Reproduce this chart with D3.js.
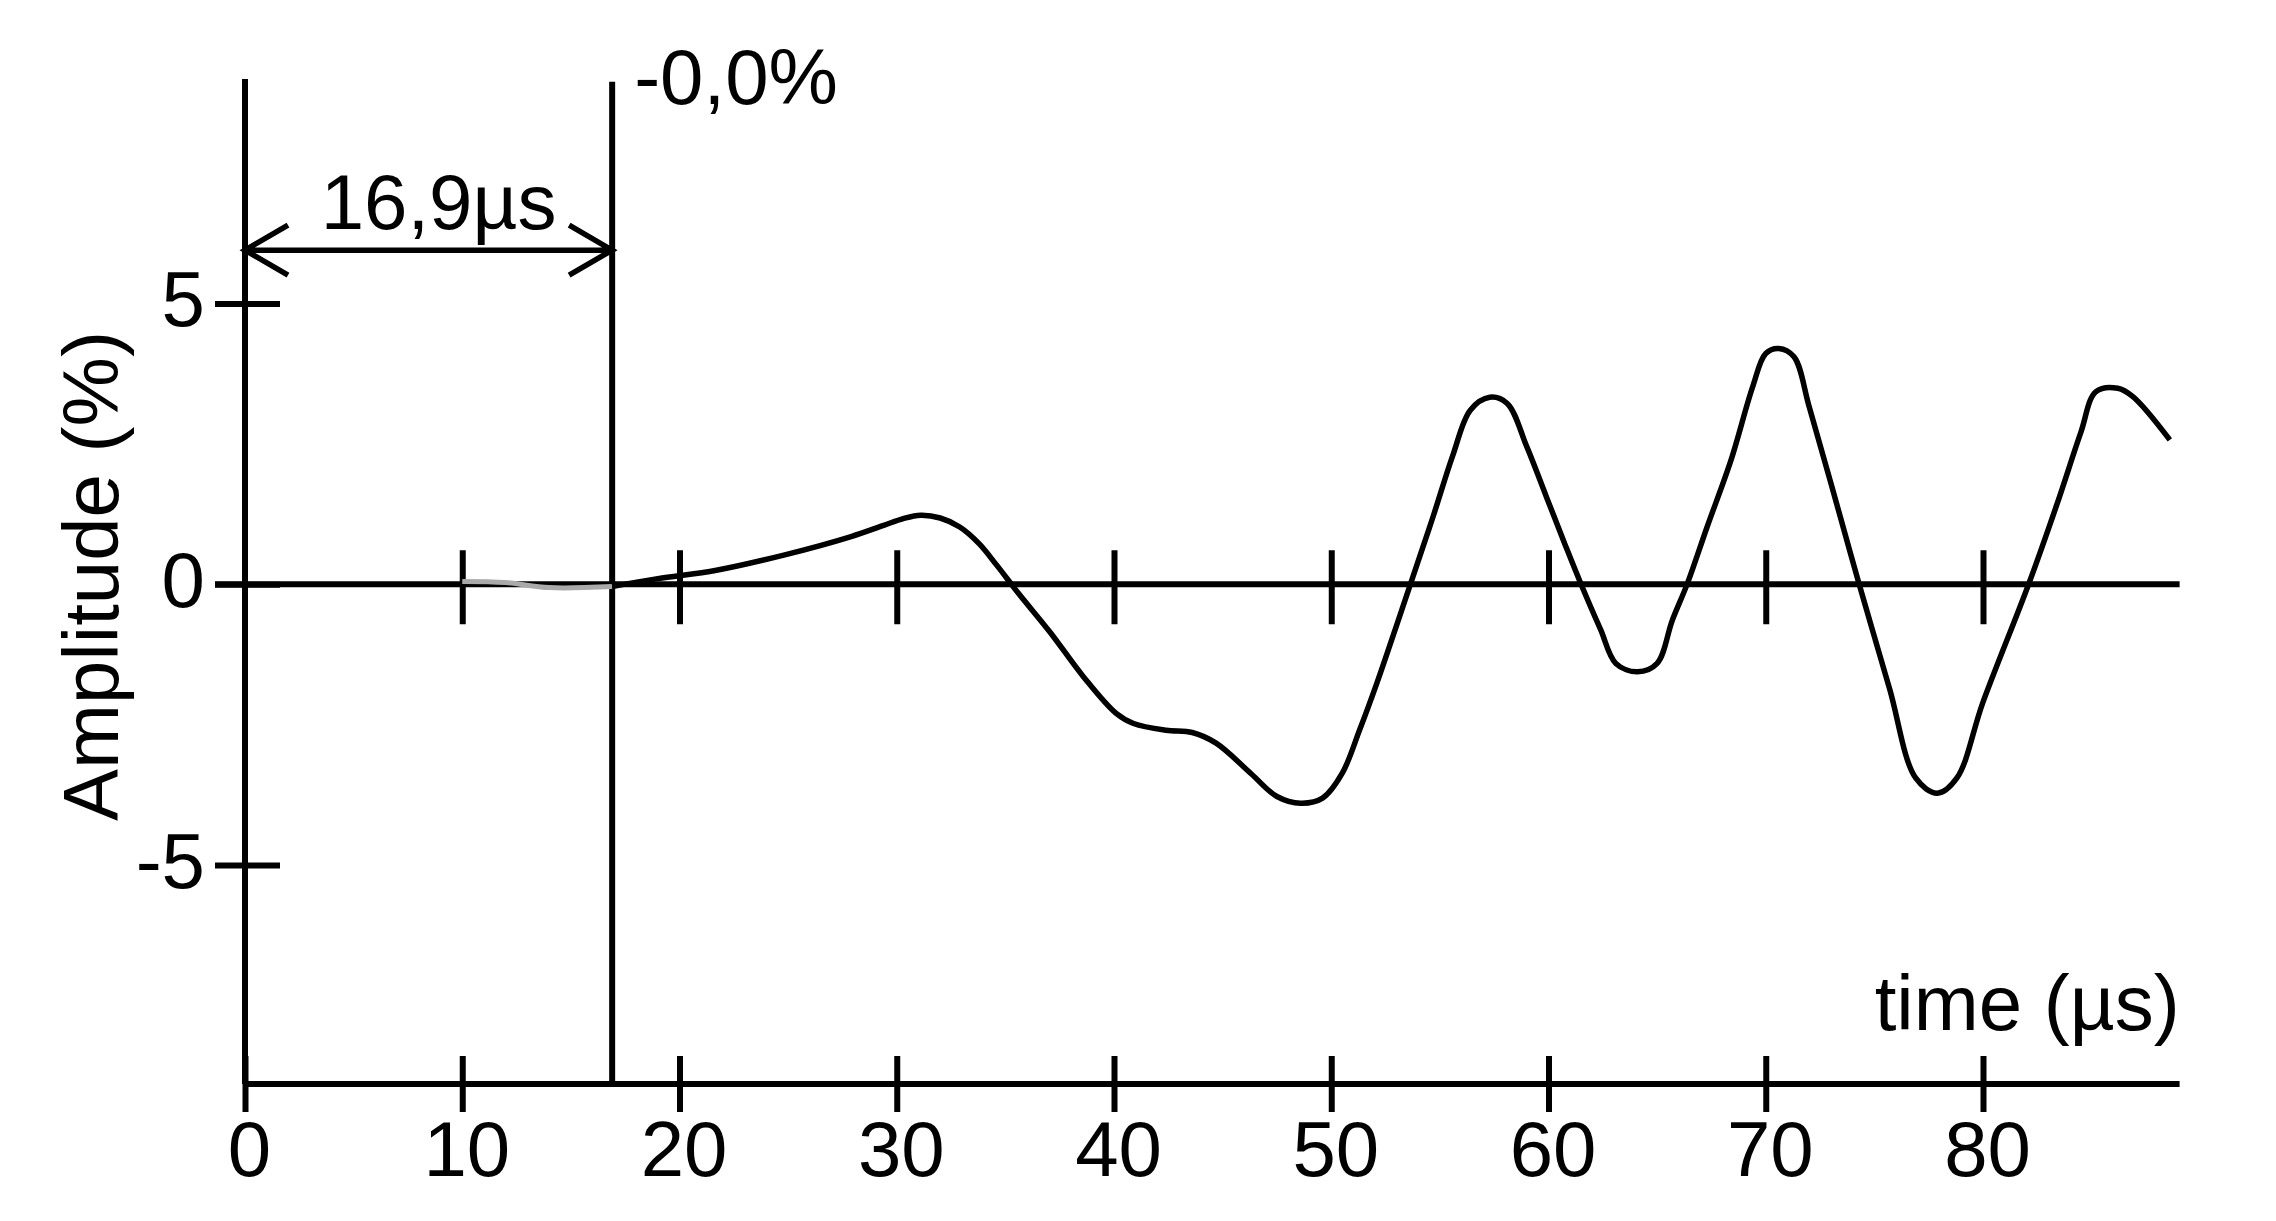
<!DOCTYPE html>
<meta charset="utf-8">
<style>
body { margin: 0; background: #fff; }
svg text { font-family: "Liberation Sans", Arial, sans-serif; font-size: 78px; fill: #000; }
</style>
<svg width="2276" height="1221"></svg>
<script src="https://d3js.org/d3.v7.min.js"></script>
<script>

// waveform (time in µs, amplitude in %)
var time = [10, 12, 14, 16.9, 19, 21.7, 24.8, 27.9, 29.4, 30.3, 31.1, 32, 32.9, 33.8, 34.6, 35.6,
  37.05, 38.6, 40.1, 40.9, 42.4, 43.6, 44.7, 46.3, 47.5, 48.6, 49.6, 50.5, 51.3, 52.1, 53, 53.8,
  54.7, 55.6, 56.4, 57.3, 58.1, 59, 59.9, 60.8, 61.5, 62.4, 63.1, 64.1, 65, 65.7, 66.4,
  67.3, 68.4, 69.4, 70, 70.6, 71.3, 72, 73, 74.3, 75.7, 76.9, 77.9, 78.8, 80, 82.1,
  83.4, 84.5, 85.2, 86.2, 86.9, 88.6];
var amplitude = [0.05, 0.03, -0.06, -0.04, 0.1, 0.25, 0.52, 0.85, 1.05, 1.17, 1.23, 1.18, 1.02, 0.72, 0.34, -0.16,
  -0.85, -1.65, -2.3, -2.48, -2.6, -2.64, -2.83, -3.37, -3.78, -3.9, -3.81, -3.37, -2.6, -1.76, -0.74, 0.18,
  1.22, 2.3, 3.1, 3.33, 3.22, 2.45, 1.56, 0.67, 0, -0.81, -1.41, -1.56, -1.41, -0.64, 0.02,
  1.02, 2.21, 3.52, 4.11, 4.2, 4.05, 3.16, 1.8, 0, -1.86, -3.45, -3.72, -3.45, -2.1, 0,
  1.42, 2.7, 3.43, 3.49, 3.34, 2.57];

var xTicks = [0, 10, 20, 30, 40, 50, 60, 70, 80];
var yTicks = [-5, 0, 5];
var triggerTime = 16.9;
var triggerLabel = "-0,0%";
var delayLabel = "16,9µs";
var xLabel = "time (µs)";
var yLabel = "Amplitude (%)";

var svg = d3.select("svg");

var x = d3.scaleLinear().domain([0, 80]).range([245, 1983]),
    y = d3.scaleLinear().domain([-5, 5]).range([865, 303.5]);

var xMax = 89.05, yMin = -8.9, yMax = 9.0;

var data = time.map(function(t, i) { return {t: t, a: amplitude[i]}; });

svg.append("rect").attr("width", 2276).attr("height", 1221).attr("fill", "#fff");

// axis lines
var axes = svg.append("g").attr("stroke", "#000").attr("stroke-width", 6);

axes.append("line")
    .attr("x1", x(0)).attr("x2", x(0))
    .attr("y1", y(yMax)).attr("y2", y(yMin));

axes.append("line")
    .attr("x1", x(0)).attr("x2", x(xMax))
    .attr("y1", y(yMin)).attr("y2", y(yMin));

axes.append("line")
    .attr("x1", x(0) - 30).attr("x2", x(xMax))
    .attr("y1", y(0)).attr("y2", y(0));

axes.append("line")
    .attr("x1", x(triggerTime)).attr("x2", x(triggerTime))
    .attr("y1", y(8.95)).attr("y2", y(yMin));

// bottom axis with labels
var bottom = svg.append("g")
    .attr("transform", "translate(0," + y(yMin) + ")")
    .call(d3.axisBottom(x).tickValues(xTicks).tickFormat(function(d) { return d; }));
bottom.select(".domain").remove();
bottom.selectAll(".tick line")
    .attr("y1", -28).attr("y2", 28)
    .attr("stroke", "#000").attr("stroke-width", 6);
bottom.selectAll(".tick text")
    .attr("y", 92).attr("dy", null).attr("x", 4);
bottom.attr("font-size", null).attr("font-family", null);

// ticks on the zero line
var zero = svg.append("g")
    .attr("transform", "translate(0," + y(0) + ")")
    .call(d3.axisBottom(x).tickValues(xTicks.slice(1)).tickFormat(""));
zero.select(".domain").remove();
zero.selectAll(".tick line")
    .attr("y1", -34).attr("y2", 40)
    .attr("stroke", "#000").attr("stroke-width", 6);

// left axis
var left = svg.append("g")
    .attr("transform", "translate(" + x(0) + ",0)")
    .call(d3.axisLeft(y).tickValues(yTicks).tickFormat(function(d) { return String(d); }));
left.select(".domain").remove();
left.selectAll(".tick line")
    .attr("x1", -30).attr("x2", 35)
    .attr("stroke", "#000").attr("stroke-width", 6);
left.selectAll(".tick text")
    .attr("x", -40).attr("dy", 22);
left.attr("font-size", null).attr("font-family", null);

// waveform: pre-trigger part is light
var line = d3.line()
    .x(function(d) { return x(d.t); })
    .y(function(d) { return y(d.a); })
    .curve(d3.curveCatmullRom.alpha(0.5));

svg.append("path")
    .datum(data.filter(function(d) { return d.t <= triggerTime; }))
    .attr("fill", "none")
    .attr("stroke", "#aaa")
    .attr("stroke-width", 5)
    .attr("d", line);

svg.append("path")
    .datum(data.filter(function(d) { return d.t >= triggerTime; }))
    .attr("fill", "none")
    .attr("stroke", "#000")
    .attr("stroke-width", 5.5)
    .attr("stroke-linejoin", "round")
    .attr("d", line);

// delay arrow
var ay = y(5.95), x0 = x(0), x1 = x(triggerTime);
svg.append("path")
    .attr("fill", "none")
    .attr("stroke", "#000")
    .attr("stroke-width", 5.5)
    .attr("d", "M" + x0 + "," + ay + "H" + x1 +
      "M" + (x0 + 43) + "," + (ay - 25) + "L" + x0 + "," + ay + "L" + (x0 + 43) + "," + (ay + 25) +
      "M" + (x1 - 43) + "," + (ay - 25) + "L" + x1 + "," + ay + "L" + (x1 - 43) + "," + (ay + 25));

svg.append("text")
    .attr("x", (x0 + x1) / 2 + 10)
    .attr("y", 229)
    .attr("text-anchor", "middle")
    .text(delayLabel);

svg.append("text")
    .attr("x", x1 + 22)
    .attr("y", 104)
    .text(triggerLabel);

svg.append("text")
    .attr("x", x(xMax))
    .attr("y", 1030)
    .attr("text-anchor", "end")
    .text(xLabel);

svg.append("text")
    .attr("transform", "translate(118," + 576 + ") rotate(-90)")
    .attr("text-anchor", "middle")
    .text(yLabel);

</script>
